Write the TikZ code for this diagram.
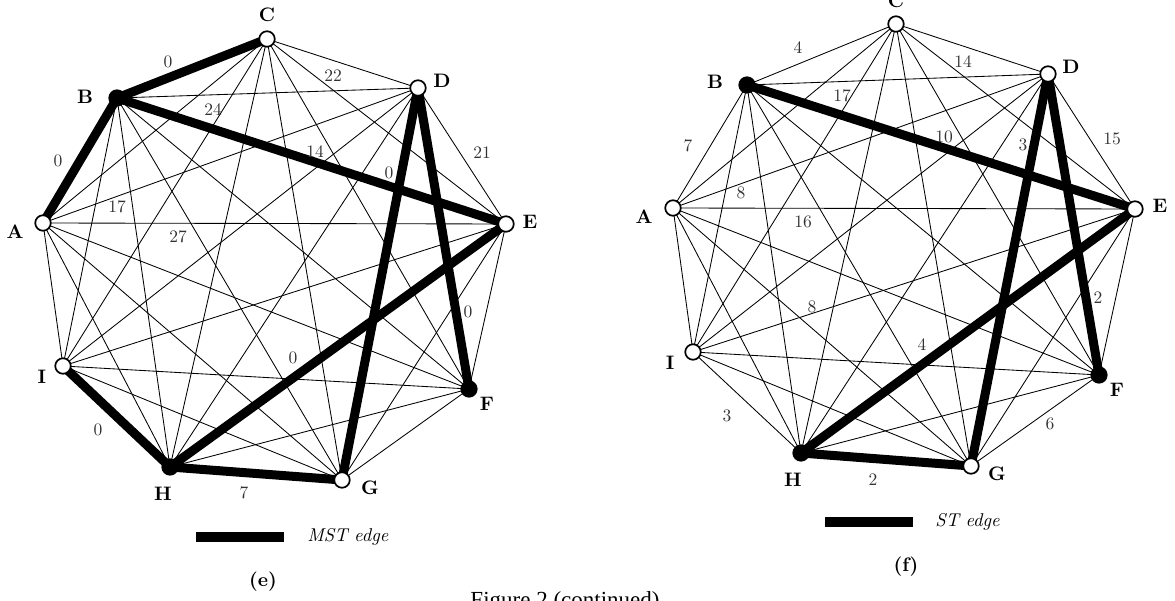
\documentclass[tikz,border=0pt]{standalone}
\usepackage{fontspec}
\newfontfamily\capfont{Liberation Serif}
\pgfdeclarelayer{bg}
\pgfsetlayers{bg,main}
\begin{document}
\begin{tikzpicture}[x=1pt,y=-1pt,
  vtx/.style={circle, draw, line width=1.7pt, minimum size=15.5pt, inner sep=0pt, fill=white},
  vtxf/.style={vtx, fill=black},
  thinedge/.style={line width=0.85pt},
  treeedge/.style={line width=9pt},
  wlab/.style={font=\fontsize{10}{10}\selectfont, text=black!80, inner sep=0pt, scale=1.75},
  vlab/.style={font=\fontsize{10}{10}\selectfont\bfseries, inner sep=0pt, scale=1.95},
  leglab/.style={font=\fontsize{10}{10}\selectfont\itshape, inner sep=0pt, anchor=west, scale=1.85},
  legbar/.style={fill=black, draw=none}
]
\useasboundingbox (0,0) rectangle (1175,601);

% ---------------- graph (e) ----------------
\node[vtx]  (eA) at (43,223) {};
\node[vtxf] (eB) at (117,98) {};
\node[vtx]  (eC) at (267,39) {};
\node[vtx]  (eD) at (418,88) {};
\node[vtx]  (eE) at (506,224) {};
\node[vtxf] (eF) at (469,389) {};
\node[vtx]  (eG) at (342,480) {};
\node[vtxf] (eH) at (170,467) {};
\node[vtx]  (eI) at (63,366) {};

% ---------------- graph (f) ----------------
\node[vtx]  (fA) at (673,208) {};
\node[vtxf] (fB) at (747,85) {};
\node[vtx]  (fC) at (896,24) {};
\node[vtx]  (fD) at (1048,74) {};
\node[vtx]  (fE) at (1135,209) {};
\node[vtxf] (fF) at (1099,375) {};
\node[vtx]  (fG) at (971,466) {};
\node[vtxf] (fH) at (801,453) {};
\node[vtx]  (fI) at (693,352) {};

\begin{pgfonlayer}{bg}
  \foreach \g in {e,f}{
    \foreach \u [count=\i] in {A,B,C,D,E,F,G,H,I}{
      \foreach \v [count=\j] in {A,B,C,D,E,F,G,H,I}{
        \ifnum\i<\j
          \draw[thinedge] (\g\u.center) -- (\g\v.center);
        \fi
      }
    }
  }
  % MST edges (e)
  \foreach \u/\v in {B/C,A/B,B/E,D/G,D/F,E/H,H/I,H/G}
    \draw[treeedge] (e\u.center) -- (e\v.center);
  % ST edges (f)
  \foreach \u/\v in {B/E,D/G,D/F,E/H,H/G}
    \draw[treeedge] (f\u.center) -- (f\v.center);
\end{pgfonlayer}

% vertex labels (e)
\node[vlab] (leA) at (15,232) {A};
\node[vlab] (leB) at (85,97) {B};
\node[vlab] (leC) at (267,15) {C};
\node[vlab] (leD) at (442,81) {D};
\node[vlab] (leE) at (530,222) {E};
\node[vlab] (leF) at (487,404) {F};
\node[vlab] (leG) at (370,488) {G};
\node[vlab] (leH) at (163,494) {H};
\node[vlab] (leI) at (42,377) {I};

% vertex labels (f)
\node[vlab] (lfA) at (644,217) {A};
\node[vlab] (lfB) at (715,82) {B};
\node[vlab] (lfC) at (896,1) {C};
\node[vlab] (lfD) at (1071,67) {D};
\node[vlab] (lfE) at (1160,206) {E};
\node[vlab] (lfF) at (1117,390) {F};
\node[vlab] (lfG) at (997,474) {G};
\node[vlab] (lfH) at (793,480) {H};
\node[vlab] (lfI) at (670,363) {I};

% weights (e)
\node[wlab] (we1) at (168,62) {0};
\node[wlab] (we2) at (58,161) {0};
\node[wlab] (we3) at (213,110) {24};
\node[wlab] (we4) at (117,207) {17};
\node[wlab] (we5) at (178,237) {27};
\node[wlab] (we6) at (333,76) {22};
\node[wlab] (we7) at (315,152) {14};
\node[wlab] (we8) at (389,173) {0};
\node[wlab] (we9) at (482,153) {21};
\node[wlab] (we10) at (468,312) {0};
\node[wlab] (we11) at (293,358) {0};
\node[wlab] (we12) at (98,430) {0};
\node[wlab] (we13) at (244,493) {7};

% weights (f)
\node[wlab] (wf1) at (798,48) {4};
\node[wlab] (wf2) at (842,96) {17};
\node[wlab] (wf3) at (688,146) {7};
\node[wlab] (wf4) at (741,193) {8};
\node[wlab] (wf5) at (803,222) {16};
\node[wlab] (wf6) at (963,62) {14};
\node[wlab] (wf7) at (944,137) {10};
\node[wlab] (wf8) at (1023,145) {3};
\node[wlab] (wf9) at (1112,139) {15};
\node[wlab] (wf10) at (812,307) {8};
\node[wlab] (wf11) at (727,416) {3};
\node[wlab] (wf12) at (873,480) {2};
\node[wlab] (wf13) at (922,345) {4};
\node[wlab] (wf14) at (1098,298) {2};
\node[wlab] (wf15) at (1050,424) {6};

% legends
\path[legbar] (196,532) rectangle (284,542);
\node[leglab] (legE) at (307,537) {MST edge};
\path[legbar] (825,517) rectangle (913,527);
\node[leglab] (legF) at (935,522) {ST edge};

% sub-captions
\node[vlab] (capE) at (263,582) {(e)};
\node[vlab] (capF) at (906,567) {(f)};
\node[font=\capfont\fontsize{23}{23}\selectfont, anchor=base, inner sep=0pt] (figcap) at (565,607) {Figure 2 (continued)};
\end{tikzpicture}
\end{document}
